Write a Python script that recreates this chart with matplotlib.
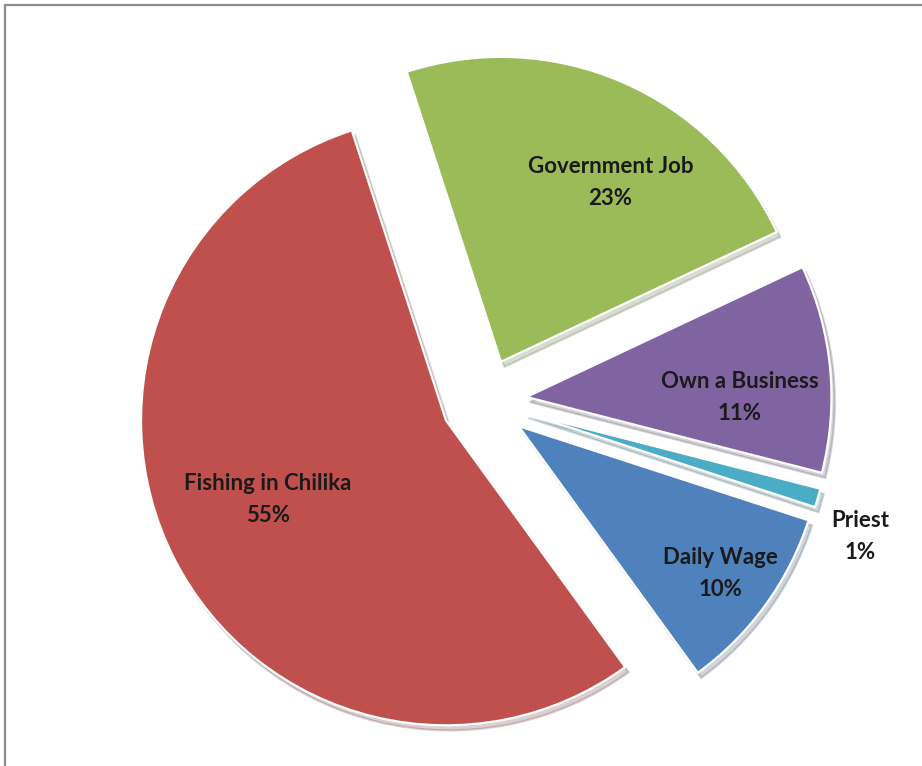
import numpy as np
import matplotlib.pyplot as plt
from matplotlib.patches import Rectangle

# occupation shares
labels = ['Government Job', 'Own a Business', 'Priest', 'Daily Wage', 'Fishing in Chilika']
shares = [23, 11, 1, 10, 55]
colors = ['#9BBB59', '#8064A2', '#4BACC6', '#4F81BD', '#C0504D']

# label placement relative to each wedge: (radius fraction, angle tweak in deg)
lab_r = [0.69, 0.70, 1.17, 0.82, 0.64]
lab_da = [-8, -5.5, -4, 0, -3]

plt.rcParams['font.family'] = ['Lato', 'DejaVu Sans']

fig = plt.figure(figsize=(9.22, 7.66), dpi=100)
ax = fig.add_axes([0, 0, 1, 1])

wedges, _ = ax.pie(shares, colors=colors, startangle=108, counterclock=False,
                   explode=[0.14] * len(shares), radius=1,
                   wedgeprops=dict(edgecolor='white', linewidth=1.6),
                   shadow=dict(ox=0.008, oy=-0.012, shade=0.5, alpha=0.22))

for w, lab, v, r, da in zip(wedges, labels, shares, lab_r, lab_da):
    cx, cy = w.center
    mid = np.deg2rad((w.theta1 + w.theta2) / 2 + da)
    ax.text(cx + r * np.cos(mid), cy + r * np.sin(mid), f'{lab}\n{v}%',
            ha='center', va='center', fontsize=16, fontweight='bold',
            color='#1a1a1a', linespacing=1.65)

ax.set_xlim(-1.587, 1.436)
ax.set_ylim(-1.197, 1.315)
ax.set_aspect('equal')
ax.axis('off')

# chart border, cut off on the right and bottom
fig.patches.append(Rectangle((5 / 922, -0.1), 1.2, 1.1 - 5 / 766,
                             transform=fig.transFigure, fill=False,
                             edgecolor='#8c8c8c', linewidth=1.6))

fig.savefig('out.png', dpi=100)
